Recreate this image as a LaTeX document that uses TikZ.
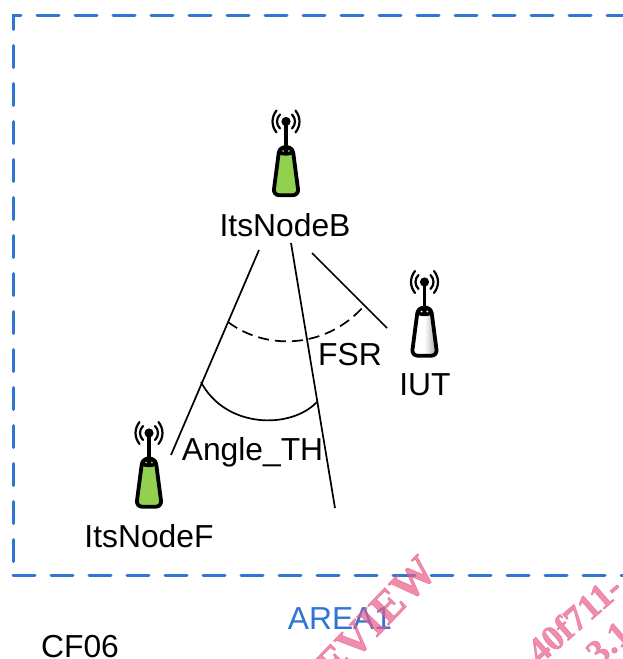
\documentclass[tikz,border=0pt]{standalone}
\usepackage{fontspec}
\setmainfont{Liberation Sans}
\newfontfamily\wmfont[FakeBold=1.2]{Liberation Serif Bold}
\definecolor{areablue}{HTML}{2F75D2}
\definecolor{wmpink}{HTML}{E85C8A}
\definecolor{nodegreen}{HTML}{92D050}
\tikzset{
  lbl/.style={font=\fontsize{31.8}{36}\selectfont,inner sep=0pt,text=black},
  wire/.style={line width=1.7pt,black},
  zone/.style={line width=3pt,areablue,line cap=round,dash pattern=on 22pt off 16pt},
  wmark/.style={font=\wmfont\fontsize{44}{46}\selectfont,text=wmpink,text opacity=0.7,rotate=46,inner sep=0pt},
  wmarksmall/.style={font=\wmfont\fontsize{36}{38}\selectfont,text=wmpink,text opacity=0.7,rotate=41,inner sep=0pt},
  pics/antenna/.style n args={2}{code={
    \begin{scope}[line width=2.2pt,line cap=round]
    \draw (-6,-7) .. controls (-10,-3) and (-10,3) .. (-6,7);
    \draw (6,-7) .. controls (10,-3) and (10,3) .. (6,7);
    \draw (-9.5,-11) .. controls (-14.8,-4) and (-14.8,4) .. (-9.5,11);
    \draw (9.5,-11) .. controls (14.8,-4) and (14.8,4) .. (9.5,11);
    \end{scope}
    \draw[line width=3.6pt] (0,0) -- (0,28);
    \fill (0,0) circle[radius=4.6];
    \path[left color=#1,right color=#2,middle color=#1,draw=black,line width=3.8pt,rounded corners=6pt]
      (-6.5,25.5) -- (6.5,25.5) -- (12.8,73.7) -- (-12.8,73.7) -- cycle;
    \fill (-7.5,27) .. controls (-4,24) and (4,24) .. (7.5,27) -- (6.5,33) .. controls (3,34.5) and (-3,34.5) .. (-6.5,33) -- cycle;
    \fill[#1] (-2.8,29.5) circle[radius=1] (2.8,29.5) circle[radius=1];
  }}
}
\begin{document}
\begin{tikzpicture}[x=1pt,y=-1pt]
\useasboundingbox (0,0) rectangle (623,659);
\begin{scope}
\clip (0,0) rectangle (623,659);
\draw[zone] (13,561.5) -- (13,15.5) -- (640,15.5);
\draw[zone] (13,575) -- (640,575);

\pic at (286,121.5) {antenna={nodegreen}{nodegreen}};
\pic at (149,433) {antenna={nodegreen}{nodegreen}};
\pic at (424.5,282) {antenna={white}{black!38}};

\node[lbl] (nb) at (285,225) {ItsNodeB};
\node[lbl] (iut) at (425,384.5) {IUT};
\node[lbl] (nf) at (149,536) {ItsNodeF};
\node[lbl] (fsr) at (350,354.5) {FSR};
\node[lbl] (ath) at (252.5,452) {Angle\_TH};
\node[lbl,text=areablue] (area) at (340,619) {AREA1};
\node[lbl] (cf) at (80,646.5) {CF06};

\coordinate (a1) at (259,250);
\coordinate (a2) at (171,455);
\coordinate (b1) at (291,243);
\coordinate (b2) at (335,508);
\coordinate (c1) at (312,253);
\coordinate (c2) at (387,328);
\coordinate (d1) at (228,322);
\coordinate (d2) at (364,306);
\coordinate (e1) at (201,382);
\coordinate (e2) at (317,402);
\draw[wire] (a1) -- (a2);
\draw[wire] (b1) -- (b2);
\draw[wire] (c1) -- (c2);
\draw[wire,dash pattern=on 11pt off 6pt] (d1) .. controls (265,350) and (325,350) .. (d2);
\draw[wire] (e1) .. controls (225,428) and (290,430) .. (e2);

\node[wmark,anchor=base east] (w1) at (439,573) {PREVIEW};
\node[wmarksmall,anchor=base west] (w2) at (540,665) {40f711-};
\node[wmarksmall,anchor=base west] (w3) at (599,667) {3.1};
\end{scope}
\end{tikzpicture}
\end{document}
